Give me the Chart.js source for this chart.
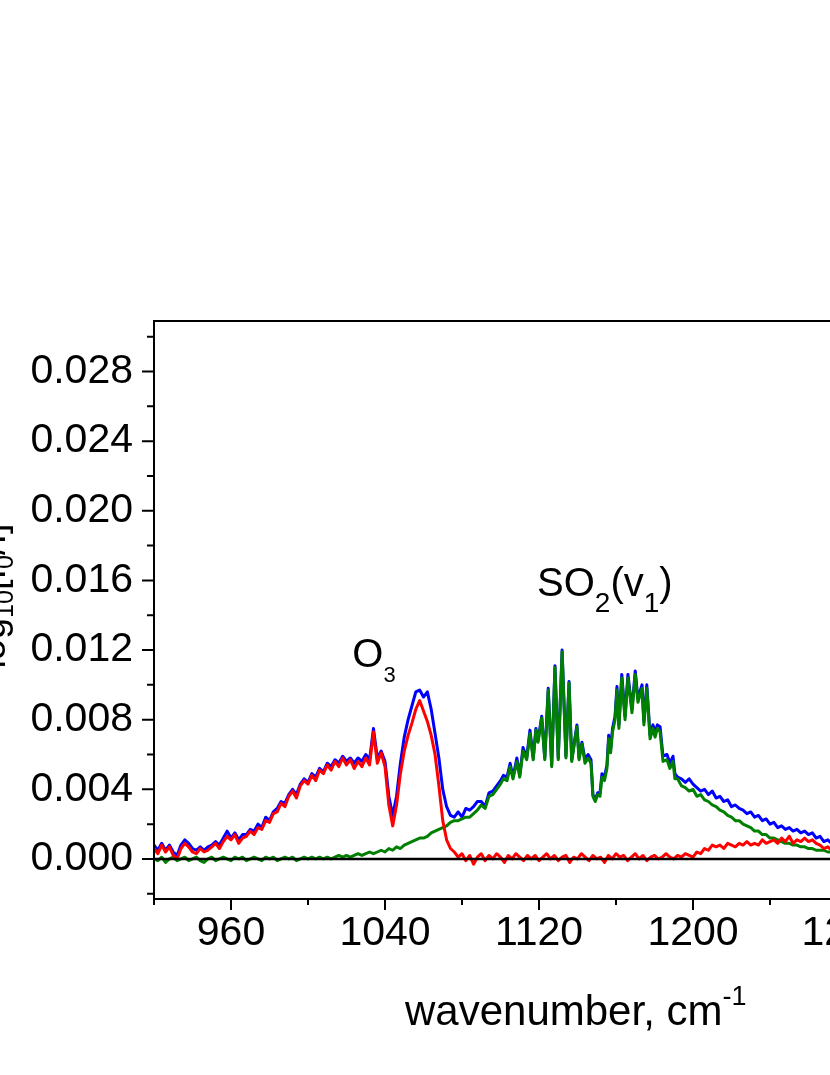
<!DOCTYPE html>
<html>
<head>
<meta charset="utf-8">
<script src="https://cdn.jsdelivr.net/npm/chart.js@4.4.1/dist/chart.umd.min.js"></script>
<style>
  html, body { margin: 0; padding: 0; background: #fff; overflow: hidden; }
  #wrap { position: relative; width: 830px; height: 1075px; overflow: hidden; }
  #spec { position: absolute; left: 0; top: 0; }
</style>
</head>
<body>
<div id="wrap"><canvas id="spec" width="1021" height="1075"></canvas></div>
<script>
// O3 spectrum (red), sampled every 2 cm-1
const wnO3 = [
  920, 922, 924, 926, 928, 930, 932, 934, 936, 938, 940, 942, 944, 946, 948, 950, 952, 954, 956, 958,
  960, 962, 964, 966, 968, 970, 972, 974, 976, 978, 980, 982, 984, 986, 988, 990, 992, 994, 996, 998,
  1000, 1002, 1004, 1006, 1008, 1010, 1012, 1014, 1016, 1018, 1020, 1022, 1024, 1026, 1028, 1030, 1032, 1034, 1036, 1038,
  1040, 1042, 1044, 1046, 1048, 1050, 1052, 1054, 1056, 1058, 1060, 1062, 1064, 1066, 1068, 1070, 1072, 1074, 1076, 1078,
  1080, 1082, 1084, 1086, 1088, 1090, 1092, 1094, 1096, 1098, 1100, 1102, 1104, 1106, 1108, 1110, 1112, 1114, 1116, 1118,
  1120, 1122, 1124, 1126, 1128, 1130, 1132, 1134, 1136, 1138, 1140, 1142, 1144, 1146, 1148, 1150, 1152, 1154, 1156, 1158,
  1160, 1162, 1164, 1166, 1168, 1170, 1172, 1174, 1176, 1178, 1180, 1182, 1184, 1186, 1188, 1190, 1192, 1194, 1196, 1198,
  1200, 1202, 1204, 1206, 1208, 1210, 1212, 1214, 1216, 1218, 1220, 1222, 1224, 1226, 1228, 1230, 1232, 1234, 1236, 1238,
  1240, 1242, 1244, 1246, 1248, 1250, 1252, 1254, 1256, 1258, 1260, 1262, 1264, 1266, 1268, 1270, 1272, 1274, 1276, 1278,
  1280
];
const absO3 = [
  0.0006, 0.0003, 0.0008, 0.0004, 0.0007, 0.0002, 0.0000, 0.0006, 0.0009, 0.0007, 0.0004, 0.0003, 0.0006, 0.0004, 0.0005, 0.0007, 0.0009, 0.0006, 0.0010, 0.0013,
  0.0011, 0.0014, 0.0009, 0.0012, 0.0013, 0.0016, 0.0014, 0.0018, 0.0017, 0.0022, 0.0021, 0.0026, 0.0027, 0.0032, 0.0030, 0.0036, 0.0039, 0.0035, 0.0042, 0.0045,
  0.0043, 0.0048, 0.0045, 0.0051, 0.0049, 0.0054, 0.0051, 0.0056, 0.0053, 0.0058, 0.0054, 0.0057, 0.0052, 0.0056, 0.0053, 0.0058, 0.0054, 0.0073, 0.0055, 0.0061,
  0.0053, 0.0031, 0.0019, 0.0031, 0.0049, 0.0062, 0.0071, 0.0078, 0.0086, 0.0091, 0.0085, 0.0079, 0.0071, 0.0060, 0.0042, 0.0022, 0.0011, 0.0006, 0.0004, 0.0001,
  0.0003, -0.0001, 0.0002, -0.0003, 0.0001, 0.0003, -0.0001, 0.0002, 0.0000, 0.0003, 0.0001, -0.0002, 0.0002, 0.0000, 0.0003, 0.0001, -0.0001, 0.0002, 0.0000, 0.0002,
  -0.0001, 0.0001, 0.0003, 0.0000, 0.0002, -0.0001, 0.0001, 0.0002, -0.0002, 0.0001, 0.0000, 0.0003, 0.0001, -0.0001, 0.0002, 0.0000, 0.0001, -0.0002, 0.0002, 0.0000,
  0.0003, 0.0001, 0.0002, -0.0001, 0.0001, 0.0003, 0.0000, 0.0002, -0.0001, 0.0001, 0.0002, 0.0000, 0.0001, 0.0003, 0.0001, 0.0000, 0.0002, 0.0001, 0.0003, 0.0002,
  0.0001, 0.0004, 0.0003, 0.0006, 0.0005, 0.0008, 0.0007, 0.0008, 0.0006, 0.0009, 0.0008, 0.0007, 0.0009, 0.0008, 0.0010, 0.0008, 0.0009, 0.0008, 0.0011, 0.0009,
  0.0010, 0.0011, 0.0009, 0.0012, 0.0010, 0.0013, 0.0009, 0.0011, 0.0010, 0.0012, 0.0010, 0.0011, 0.0009, 0.0008, 0.0006, 0.0007, 0.0005, 0.0006, 0.0004, 0.0005,
  0.0004
];

// SO2 (green) and total (blue), finer sampling through the SO2 band
const wnSO2 = [
  920, 922, 924, 926, 928, 930, 932, 934, 936, 938, 940, 942, 944, 946, 948, 950, 952, 954, 956, 958,
  960, 962, 964, 966, 968, 970, 972, 974, 976, 978, 980, 982, 984, 986, 988, 990, 992, 994, 996, 998,
  1000, 1002, 1004, 1006, 1008, 1010, 1012, 1014, 1016, 1018, 1020, 1022, 1024, 1026, 1028, 1030, 1032, 1034, 1036, 1038,
  1040, 1042, 1044, 1046, 1048, 1050, 1052, 1054, 1056, 1058, 1060, 1062, 1064, 1066, 1068, 1070, 1072, 1074, 1076, 1078,
  1080, 1082, 1084, 1086, 1088, 1090, 1092, 1094, 1096, 1098,
  1100, 1101.5, 1103.4, 1105, 1106.5, 1108.5, 1110, 1111.7, 1113.6, 1115.3, 1117, 1118.4, 1119.5, 1121.4, 1123, 1124.8, 1126.6, 1128.3, 1130, 1132,
  1134, 1135.6, 1137, 1139.7, 1140.8, 1142.3, 1143.9, 1145.5, 1147, 1148, 1149.2, 1150.5, 1151.7, 1152.7, 1154, 1155.3, 1156.2, 1157.2, 1158.2, 1159.5,
  1160.5, 1161.5, 1163, 1164.7, 1166.2, 1168.3, 1170, 1171.4, 1173.5, 1174.5, 1176, 1177.7, 1179.2, 1180.3, 1181.5, 1182.9, 1184.4, 1186.5, 1188, 1189.6,
  1190.6,
  1192, 1194, 1196, 1198, 1200, 1202, 1204, 1206, 1208, 1210, 1212, 1214, 1216, 1218, 1220, 1222, 1224, 1226, 1228, 1230,
  1232, 1234, 1236, 1238, 1240, 1242, 1244, 1246, 1248, 1250, 1252, 1254, 1256, 1258, 1260, 1262, 1264, 1266, 1268, 1270,
  1272, 1274, 1276, 1278, 1280
];
const absSO2 = [
  0.0000, -0.0001, 0.0001, -0.0002, 0.0000, 0.0001, -0.0001, 0.0000, 0.0001, -0.0001, 0.0000, 0.0001, -0.0001, -0.0002, 0.0000, 0.0001, -0.0001, 0.0000, 0.0001, 0.0000,
  -0.0001, 0.0001, 0.0000, 0.0001, -0.0001, 0.0000, 0.0001, 0.0000, -0.0001, 0.0001, 0.0000, 0.0001, -0.0001, 0.0000, 0.0001, 0.0000, 0.0001, -0.0001, 0.0000, 0.0001,
  0.0000, 0.0001, 0.0000, 0.0001, 0.0000, 0.0001, 0.0000, 0.0001, 0.0002, 0.0001, 0.0002, 0.0001, 0.0002, 0.0003, 0.0002, 0.0003, 0.0004, 0.0003, 0.0004, 0.0005,
  0.0004, 0.0006, 0.0005, 0.0007, 0.0006, 0.0008, 0.0009, 0.0010, 0.0011, 0.0012, 0.0012, 0.0013, 0.0015, 0.0016, 0.0017, 0.0018, 0.0019, 0.0021, 0.0022, 0.0022,
  0.0023, 0.0024, 0.0024, 0.0026, 0.0028, 0.0031, 0.0029, 0.0036, 0.0037, 0.0040,
  0.0043, 0.0046, 0.0045, 0.0053, 0.0046, 0.0056, 0.0047, 0.0062, 0.0057, 0.0072, 0.0057, 0.0074, 0.0067, 0.0081, 0.0057, 0.0097, 0.0053, 0.0110, 0.0057, 0.0119,
  0.0058, 0.0101, 0.0056, 0.0076, 0.0057, 0.0066, 0.0055, 0.0058, 0.0055, 0.0036, 0.0033, 0.0037, 0.0036, 0.0047, 0.0045, 0.0052, 0.0069, 0.0061, 0.0073, 0.0080,
  0.0097, 0.0075, 0.0104, 0.0080, 0.0104, 0.0084, 0.0106, 0.0090, 0.0098, 0.0077, 0.0098, 0.0069, 0.0075, 0.0070, 0.0075, 0.0073, 0.0056, 0.0057, 0.0052, 0.0056,
  0.0046,
  0.0046, 0.0042, 0.0041, 0.0039, 0.0040, 0.0036, 0.0037, 0.0034, 0.0033, 0.0031, 0.0030, 0.0028, 0.0027, 0.0025, 0.0024, 0.0022, 0.0022, 0.0020, 0.0019, 0.0018,
  0.0016, 0.0016, 0.0014, 0.0014, 0.0012, 0.0012, 0.0011, 0.0010, 0.0009, 0.0009, 0.0008, 0.0008, 0.0007, 0.0007, 0.0006, 0.0006, 0.0005, 0.0005, 0.0005, 0.0004,
  0.0004, 0.0003, 0.0004, 0.0003, 0.0003
];
const absTotal = [
  0.0008, 0.0005, 0.0009, 0.0005, 0.0008, 0.0004, 0.0002, 0.0008, 0.0011, 0.0009, 0.0006, 0.0005, 0.0007, 0.0005, 0.0007, 0.0008, 0.0010, 0.0008, 0.0012, 0.0016,
  0.0012, 0.0015, 0.0011, 0.0014, 0.0014, 0.0017, 0.0016, 0.0020, 0.0018, 0.0024, 0.0022, 0.0027, 0.0029, 0.0033, 0.0032, 0.0037, 0.0040, 0.0037, 0.0043, 0.0046,
  0.0044, 0.0049, 0.0047, 0.0052, 0.0050, 0.0055, 0.0053, 0.0057, 0.0055, 0.0059, 0.0056, 0.0058, 0.0055, 0.0058, 0.0056, 0.0060, 0.0057, 0.0075, 0.0058, 0.0062,
  0.0056, 0.0036, 0.0025, 0.0036, 0.0055, 0.0070, 0.0080, 0.0088, 0.0096, 0.0097, 0.0093, 0.0096, 0.0086, 0.0072, 0.0058, 0.0040, 0.0030, 0.0025, 0.0024, 0.0027,
  0.0024, 0.0029, 0.0028, 0.0030, 0.0033, 0.0033, 0.0030, 0.0038, 0.0039, 0.0042,
  0.0045, 0.0048, 0.0047, 0.0055, 0.0047, 0.0058, 0.0048, 0.0064, 0.0058, 0.0074, 0.0058, 0.0075, 0.0068, 0.0082, 0.0058, 0.0098, 0.0054, 0.0111, 0.0058, 0.0120,
  0.0059, 0.0102, 0.0057, 0.0077, 0.0058, 0.0067, 0.0057, 0.0060, 0.0057, 0.0037, 0.0034, 0.0038, 0.0038, 0.0049, 0.0047, 0.0054, 0.0071, 0.0063, 0.0075, 0.0082,
  0.0099, 0.0077, 0.0106, 0.0082, 0.0106, 0.0086, 0.0108, 0.0092, 0.0100, 0.0079, 0.0100, 0.0071, 0.0077, 0.0073, 0.0077, 0.0076, 0.0059, 0.0060, 0.0055, 0.0059,
  0.0049,
  0.0047, 0.0046, 0.0044, 0.0046, 0.0043, 0.0041, 0.0039, 0.0040, 0.0037, 0.0039, 0.0035, 0.0036, 0.0033, 0.0034, 0.0030, 0.0031, 0.0029, 0.0028, 0.0026, 0.0027,
  0.0024, 0.0025, 0.0022, 0.0023, 0.0020, 0.0021, 0.0018, 0.0019, 0.0017, 0.0018, 0.0016, 0.0017, 0.0015, 0.0016, 0.0014, 0.0015, 0.0012, 0.0013, 0.0010, 0.0011,
  0.0009, 0.0010, 0.0008, 0.0009, 0.0008
];

const xMajorTicks = [960, 1040, 1120, 1200, 1280];
const xMinorTicks = [920, 1000, 1080, 1160, 1240, 1320];
const yMajorTicks = [0, 0.004, 0.008, 0.012, 0.016, 0.020, 0.024, 0.028];
const yMinorTicks = [-0.002, 0.002, 0.006, 0.010, 0.014, 0.018, 0.022, 0.026, 0.030];

const FONT = '"Liberation Sans", Arial, Helvetica, sans-serif';

function toPoints(xs, ys) {
  return xs.map((x, i) => ({ x: x, y: ys[i] }));
}

// draws a run of text pieces, some of them sub/superscript
function richText(ctx, parts, x, y, align) {
  let total = 0;
  parts.forEach(p => {
    ctx.font = p.size + 'px ' + FONT;
    p.w = ctx.measureText(p.t).width;
    total += p.w;
  });
  let cx = align === 'center' ? x - total / 2 : x;
  ctx.textAlign = 'left';
  ctx.textBaseline = 'alphabetic';
  parts.forEach(p => {
    ctx.font = p.size + 'px ' + FONT;
    ctx.fillText(p.t, cx, y + (p.dy || 0));
    cx += p.w;
  });
}

const framePlugin = {
  id: 'frame',
  afterDatasetsDraw(chart) {
    const { ctx, chartArea: a, scales: { x, y } } = chart;
    ctx.save();
    ctx.strokeStyle = '#000';
    ctx.lineWidth = 2.5;
    const y0 = y.getPixelForValue(0);
    ctx.beginPath();
    ctx.moveTo(a.left, y0);
    ctx.lineTo(a.right, y0);
    ctx.stroke();

    ctx.lineWidth = 2;
    ctx.strokeRect(a.left, a.top, a.right - a.left, a.bottom - a.top);

    ctx.beginPath();
    yMajorTicks.forEach(v => { const p = y.getPixelForValue(v); ctx.moveTo(a.left, p); ctx.lineTo(a.left - 12, p); });
    yMinorTicks.forEach(v => { const p = y.getPixelForValue(v); ctx.moveTo(a.left, p); ctx.lineTo(a.left - 7, p); });
    xMajorTicks.forEach(v => { const p = x.getPixelForValue(v); ctx.moveTo(p, a.bottom); ctx.lineTo(p, a.bottom + 11); });
    xMinorTicks.forEach(v => { const p = x.getPixelForValue(v); ctx.moveTo(p, a.bottom); ctx.lineTo(p, a.bottom + 6); });
    ctx.stroke();

    ctx.fillStyle = '#000';
    // band labels
    richText(ctx, [
      { t: 'O', size: 40 },
      { t: '3', size: 22, dy: 15 }
    ], x.getPixelForValue(1023), y.getPixelForValue(0.0110), 'left');
    richText(ctx, [
      { t: 'SO', size: 40 },
      { t: '2', size: 28, dy: 16 },
      { t: '(v', size: 40 },
      { t: '1', size: 28, dy: 16 },
      { t: ')', size: 40 }
    ], x.getPixelForValue(1119), y.getPixelForValue(0.0151), 'left');

    // x axis title
    richText(ctx, [
      { t: 'wavenumber, cm', size: 42 },
      { t: '-1', size: 27, dy: -20 }
    ], a.left + 251, a.bottom + 126, 'left');

    // y axis title, mostly cut off at the left edge
    ctx.translate(5, (a.top + a.bottom) / 2 - 14);
    ctx.rotate(-Math.PI / 2);
    richText(ctx, [
      { t: 'log', size: 38 },
      { t: '10', size: 25, dy: 8 },
      { t: '[I', size: 38 },
      { t: '0', size: 25, dy: 8 },
      { t: '/I]', size: 38 }
    ], 0, 0, 'center');
    ctx.restore();
  }
};

new Chart(document.getElementById('spec'), {
  type: 'line',
  data: {
    datasets: [
      { label: 'O3', data: toPoints(wnO3, absO3), borderColor: '#ff0000', borderWidth: 3 },
      { label: 'SO2', data: toPoints(wnSO2, absSO2), borderColor: '#008000', borderWidth: 3 },
      { label: 'total', data: toPoints(wnSO2, absTotal), borderColor: '#0000ff', borderWidth: 3 }
    ]
  },
  options: {
    responsive: false,
    animation: false,
    parsing: false,
    elements: { point: { radius: 0 }, line: { tension: 0, borderJoinStyle: 'round' } },
    layout: { padding: { left: 0, top: 321, right: 20, bottom: 0 } },
    plugins: { legend: { display: false }, tooltip: { enabled: false }, title: { display: false } },
    scales: {
      x: {
        type: 'linear',
        min: 920,
        max: 1360,
        grid: { display: false, drawTicks: false },
        border: { display: false },
        afterBuildTicks: s => { s.ticks = xMajorTicks.map(v => ({ value: v })); },
        afterFit: s => { s.height = 176; },
        ticks: {
          autoSkip: false,
          maxRotation: 0,
          padding: 10,
          color: '#000',
          font: { family: FONT, size: 41 },
          callback: v => String(v)
        }
      },
      y: {
        type: 'linear',
        min: -0.0023,
        max: 0.0309,
        grid: { display: false, drawTicks: false },
        border: { display: false },
        afterBuildTicks: s => { s.ticks = yMajorTicks.map(v => ({ value: v })); },
        afterFit: s => { s.width = 154; },
        ticks: {
          padding: 21,
          color: '#000',
          font: { family: FONT, size: 41 },
          callback: v => v.toFixed(3)
        }
      }
    }
  },
  plugins: [framePlugin]
});
</script>
</body>
</html>
